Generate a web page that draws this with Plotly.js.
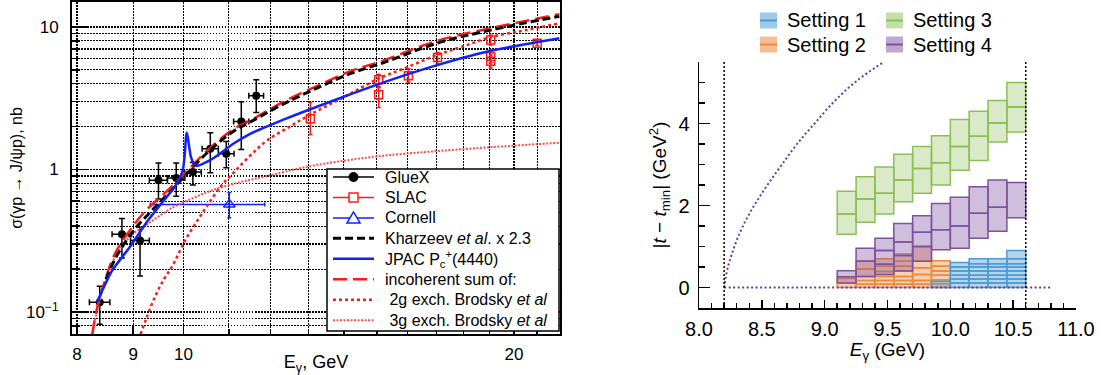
<!DOCTYPE html>
<html><head><meta charset="utf-8">
<script src="https://cdn.plot.ly/plotly-3.0.1.min.js"></script>
<style>html,body{margin:0;padding:0;background:#fff}#chart{width:1101px;height:375px}</style>
</head><body><div id="chart"></div>
<script>
// ================= LEFT PANEL DATA =================
const gluexE = [8.39, 8.79, 9.13, 9.49, 9.85, 10.2, 10.58, 10.94, 11.29, 11.65];
const gluexSigma = [0.117, 0.351, 0.318, 0.84, 0.87, 0.96, 1.40, 1.29, 2.17, 3.29];
const gluexErrUp = [0.035, 0.103, 0.075, 0.27, 0.24, 0.16, 0.41, 0.28, 0.82, 0.97];
const gluexErrDown = [0.035, 0.112, 0.139, 0.22, 0.22, 0.18, 0.45, 0.26, 0.79, 0.78];
const gluexErrE = [0.18, 0.18, 0.18, 0.18, 0.18, 0.18, 0.18, 0.18, 0.18, 0.18];

const slacE = [13.05, 15.06, 15.06, 16.03, 17.04, 19.05, 19.05, 19.05, 21.0];
const slacSigma = [2.27, 3.34, 4.26, 4.54, 6.1, 8.1, 6.2, 5.75, 7.7];
const slacErrUp = [0.68, 0.40, 0.40, 0.55, 0.55, 0.69, 0.70, 0.60, 0.30];
const slacErrDown = [0.51, 0.62, 0.45, 0.45, 0.60, 0.62, 0.60, 0.60, 0.30];

const cornellE = [11.01];
const cornellSigma = [0.569];
const cornellErrEPlus = [0.85];
const cornellErrEMinus = [1.68];
const cornellErrUp = [0.12];
const cornellErrDown = [0.11];

const kharzeevE = [8.5, 8.7, 9.0, 9.3, 9.6, 10.0, 10.5, 11.1, 11.5, 12.35, 13.23, 14.2, 15.2, 17.03, 19.05, 22.0];
const kharzeevSigma = [0.17, 0.25, 0.37, 0.49, 0.63, 0.88, 1.3, 1.85, 2.15, 2.9, 3.72, 4.72, 5.6, 7.7, 9.5, 11.9];

const jpacE = [8.34, 8.61, 8.95, 9.3, 9.56, 9.83, 9.97, 10.0, 10.03, 10.055, 10.07, 10.09, 10.12, 10.16, 10.22, 10.29, 10.5, 10.73, 11.11, 11.5, 11.92, 12.78, 13.7, 14.6, 15.72, 17.03, 19.05, 22.0];
const jpacSigma = [0.117, 0.195, 0.291, 0.447, 0.585, 0.764, 0.95, 1.05, 1.3, 1.7, 1.81, 1.7, 1.45, 1.22, 1.1, 1.06, 1.13, 1.25, 1.52, 1.78, 2.01, 2.49, 3.05, 3.65, 4.45, 5.4, 6.8, 8.34];

const sumE = [8.26, 8.34, 8.49, 8.67, 8.95, 9.23, 9.63, 10.04, 10.62, 11.11, 11.5, 12.35, 13.23, 14.2, 15.2, 17.03, 19.05, 22.0];
const sumSigma = [0.07, 0.105, 0.17, 0.26, 0.38, 0.51, 0.69, 0.95, 1.46, 1.92, 2.2, 3.0, 3.85, 4.9, 5.8, 8.0, 9.8, 12.3];

const twoGluonE = [9.14, 9.25, 9.43, 9.6, 9.77, 10.04, 10.3, 10.5, 10.81, 11.11, 11.5, 11.92, 12.5, 13.05, 14.0, 15.02, 16.0, 17.03, 18.0, 19.05, 20.5, 22.0];
const twoGluonSigma = [0.07, 0.09, 0.13, 0.17, 0.21, 0.32, 0.44, 0.55, 0.76, 0.95, 1.25, 1.6, 2.0, 2.43, 3.22, 4.3, 5.23, 6.37, 7.33, 8.5, 9.5, 10.6];

const threeGluonE = [8.26, 8.34, 8.49, 8.67, 8.95, 9.3, 9.77, 10.2, 10.65, 11.3, 11.92, 13.0, 14.8, 17.1, 20.0, 22.0];
const threeGluonSigma = [0.07, 0.10, 0.165, 0.245, 0.34, 0.42, 0.54, 0.63, 0.72, 0.82, 0.90, 1.05, 1.22, 1.35, 1.47, 1.54];

const leftXTicks = [8, 9, 10, 20];
const leftXMinor = [11, 12, 13, 14, 15, 16, 17, 18, 19, 21, 22];
const leftYTicks = [0.1, 1, 10];
const leftYTickText = ['10<sup>\u22121</sup>', '1', '10'];
const leftYMinor = [0.08, 0.09, 0.2, 0.3, 0.4, 0.5, 0.6, 0.7, 0.8, 0.9, 2, 3, 4, 5, 6, 7, 8, 9];

const leftLegendNames = ['GlueX', 'SLAC', 'Cornell', 'Kharzeev <i>et al</i>. x 2.3', 'JPAC P<sub>c</sub><sup>+</sup>(4440)',
  'incoherent sum of:', '\u00a02g exch. Brodsky <i>et al</i>', '\u00a03g exch. Brodsky <i>et al</i>'];

// ================= RIGHT PANEL DATA =================
const eBinEdges = [9.1, 9.25, 9.4, 9.55, 9.7, 9.85, 10.0, 10.15, 10.3, 10.45, 10.6];

const setting1Cols = [5, 6, 7, 8, 9];
const setting1T = [
  [0, 0.15],
  [0, 0.11, 0.21, 0.30, 0.40, 0.50, 0.61],
  [0, 0.11, 0.21, 0.30, 0.40, 0.50, 0.58, 0.70],
  [0, 0.11, 0.21, 0.30, 0.40, 0.50, 0.58, 0.70],
  [0, 0.11, 0.21, 0.30, 0.40, 0.50, 0.58, 0.70, 0.90]
];
const setting2Cols = [0, 1, 2, 3, 4, 5];
const setting2T = [
  [0, 0.11, 0.22],
  [0, 0.08, 0.17, 0.27, 0.45, 0.64],
  [0, 0.08, 0.17, 0.27, 0.39, 0.52, 0.70],
  [0, 0.08, 0.17, 0.27, 0.40, 0.52, 0.64, 0.82],
  [0, 0.08, 0.17, 0.32, 0.48, 0.64, 1.0],
  [0, 0.09, 0.19, 0.30, 0.40, 0.52, 0.65]
];
const setting3Cols = [0, 1, 2, 3, 4, 5, 6, 7, 8, 9];
const setting3T = [
  [1.30, 1.79, 2.35], [1.59, 2.16, 2.70], [1.79, 2.30, 2.94], [2.09, 2.62, 3.25], [2.30, 2.90, 3.44],
  [2.50, 3.04, 3.70], [2.86, 3.44, 4.10], [3.10, 3.69, 4.30], [3.55, 4.01, 4.56], [3.79, 4.40, 5.00]
];
const setting4Cols = [0, 1, 2, 3, 4, 5, 6, 7, 8, 9];
const setting4T = [
  [0.11, 0.26, 0.41], [0.27, 0.64, 0.96], [0.32, 0.57, 0.90, 1.20], [0.40, 0.78, 1.11, 1.56], [0.64, 1.00, 1.35, 1.75],
  [0.92, 1.41, 2.05], [0.96, 1.50, 2.20], [1.20, 1.81, 2.46], [1.37, 1.96, 2.62], [1.70, 2.56]
];

const tMaxE = [8.2, 8.21, 8.23, 8.26, 8.3, 8.35, 8.41, 8.48, 8.56, 8.66, 8.78, 8.92, 9.08, 9.26, 9.47];
const tMaxT = [0, 0.2, 0.5, 0.8, 1.15, 1.5, 1.85, 2.2, 2.57, 3.0, 3.5, 4.0, 4.55, 5.05, 5.5];
const tMinE = [8.2, 10.8];
const tMinT = [0, 0];
const limitE = [8.2, 10.6];

const settingNames = ['Setting 1', 'Setting 2', 'Setting 3', 'Setting 4'];

// ================= BUILD =================
const RED = '#ff1a1a', BLUE = '#1020ff', RED3 = '#ff4d4d';
const traces = [];

traces.push({x: gluexE, y: gluexSigma, type: 'scatter', mode: 'markers', xaxis: 'x', yaxis: 'y', name: 'GlueX',
  marker: {color: 'black', size: 8, symbol: 'circle'},
  error_y: {type: 'data', symmetric: false, array: gluexErrUp, arrayminus: gluexErrDown, color: 'black', thickness: 1.5, width: 3},
  error_x: {type: 'data', array: gluexErrE, color: 'black', thickness: 1.5, width: 3}});
traces.push({x: slacE, y: slacSigma, type: 'scatter', mode: 'markers', xaxis: 'x', yaxis: 'y', name: 'SLAC',
  marker: {color: RED, size: 8, symbol: 'square-open', line: {color: RED, width: 1.5}},
  error_y: {type: 'data', symmetric: false, array: slacErrUp, arrayminus: slacErrDown, color: RED, thickness: 1.5, width: 2}});
traces.push({x: cornellE, y: cornellSigma, type: 'scatter', mode: 'markers', xaxis: 'x', yaxis: 'y', name: 'Cornell',
  marker: {color: BLUE, size: 10, symbol: 'triangle-up-open', line: {color: BLUE, width: 1.5}},
  error_y: {type: 'data', symmetric: false, array: cornellErrUp, arrayminus: cornellErrDown, color: BLUE, thickness: 1.5, width: 2},
  error_x: {type: 'data', symmetric: false, array: cornellErrEPlus, arrayminus: cornellErrEMinus, color: BLUE, thickness: 1.5, width: 2}});

const lineStyles = {
  three: {color: RED3, width: 2, dash: '2px,1.5px'},
  two: {color: RED, width: 2.5, dash: '3px,3px'},
  sum: {color: RED, width: 2.5, dash: '14px,6px'},
  khar: {color: 'black', width: 3, dash: '8px,4px'},
  jpac: {color: BLUE, width: 2.5}
};
traces.push({x: threeGluonE, y: threeGluonSigma, type: 'scatter', mode: 'lines', name: '3g', line: Object.assign({shape: 'spline'}, lineStyles.three), xaxis: 'x', yaxis: 'y'});
traces.push({x: twoGluonE, y: twoGluonSigma, type: 'scatter', mode: 'lines', name: '2g', line: Object.assign({shape: 'spline'}, lineStyles.two), xaxis: 'x', yaxis: 'y'});
traces.push({x: sumE, y: sumSigma, type: 'scatter', mode: 'lines', name: 'sum', line: Object.assign({shape: 'spline'}, lineStyles.sum), xaxis: 'x', yaxis: 'y'});
traces.push({x: kharzeevE, y: kharzeevSigma, type: 'scatter', mode: 'lines', name: 'Kharzeev', line: Object.assign({shape: 'spline'}, lineStyles.khar), xaxis: 'x', yaxis: 'y'});
traces.push({x: jpacE, y: jpacSigma, type: 'scatter', mode: 'lines', name: 'JPAC', line: Object.assign({shape: 'spline', smoothing: 0.6}, lineStyles.jpac), xaxis: 'x', yaxis: 'y'});

// right: boxes
function boxPolys(cols, tEdges) {
  const xs = [], ys = [];
  cols.forEach((c, i) => {
    const e0 = eBinEdges[c], e1 = eBinEdges[c + 1], t = tEdges[i];
    for (let j = 0; j < t.length - 1; j++) {
      xs.push(e0, e1, e1, e0, e0, null);
      ys.push(t[j], t[j], t[j + 1], t[j + 1], t[j], null);
    }
  });
  return {xs, ys};
}
const settingStyles = [
  {fill: 'rgba(79,159,214,0.43)', swatch: 'rgba(79,159,214,0.55)', line: '#4d9bd3'},
  {fill: 'rgba(240,136,62,0.40)', swatch: 'rgba(240,136,62,0.55)', line: '#ee8a3c'},
  {fill: 'rgba(140,191,85,0.32)', swatch: 'rgba(140,191,85,0.5)', line: '#8cbf55'},
  {fill: 'rgba(126,82,160,0.37)', swatch: 'rgba(126,82,160,0.5)', line: '#7e52a0'}
];
const settingData = [[setting3Cols, setting3T, 2], [setting2Cols, setting2T, 1], [setting4Cols, setting4T, 3], [setting1Cols, setting1T, 0]];
settingData.forEach(([cols, tt, k]) => {
  const p = boxPolys(cols, tt);
  traces.push({x: p.xs, y: p.ys, type: 'scatter', mode: 'lines', fill: 'toself', fillcolor: settingStyles[k].fill, name: settingNames[k],
    line: {color: settingStyles[k].line, width: 1.5}, xaxis: 'x2', yaxis: 'y2', hoverinfo: 'skip'});
});
traces.push({x: tMaxE, y: tMaxT, type: 'scatter', mode: 'lines', line: {color: '#6a3d9a', width: 2, dash: '2px,2.5px', shape: 'spline'},
  xaxis: 'x2', yaxis: 'y2', name: 't max'});
traces.push({x: tMinE, y: tMinT, type: 'scatter', mode: 'lines', line: {color: '#6a3d9a', width: 2, dash: '2px,2.5px'},
  xaxis: 'x2', yaxis: 'y2', name: 't min'});

// ---------- shapes & annotations (threshold lines + legends) ----------
const W = 1101, H = 375;
const PX = px => px / W, PY = py => 1 - py / H;
const shapes = limitE.map(e => ({type: 'line', xref: 'x2', yref: 'y2 domain', x0: e, x1: e, y0: 0, y1: 1,
  line: {color: 'black', width: 1.5, dash: '2px,2px'}}));
const annotations = [];

// left legend box
shapes.push({type: 'rect', xref: 'paper', yref: 'paper', x0: PX(327), x1: PX(559), y0: PY(331), y1: PY(169),
  line: {color: 'black', width: 1.5}, fillcolor: 'white', layer: 'above'});
const leftLegendLines = [
  {color: 'black', width: 1.5}, {color: RED, width: 1.5}, {color: BLUE, width: 1.5},
  lineStyles.khar, lineStyles.jpac, lineStyles.sum, lineStyles.two, lineStyles.three
];
const rowY = i => 177 + 20.45 * i;
leftLegendNames.forEach((nm, i) => {
  const yc = rowY(i);
  const ls = leftLegendLines[i];
  shapes.push({type: 'line', xref: 'paper', yref: 'paper', x0: PX(333), x1: PX(374), y0: PY(yc), y1: PY(yc),
    line: {color: ls.color, width: ls.width, dash: ls.dash || 'solid'}, layer: 'above'});
  annotations.push({xref: 'paper', yref: 'paper', x: PX(383), y: PY(yc), xanchor: 'left', yanchor: 'middle', showarrow: false,
    text: nm, font: {size: 16, color: 'black'}});
});
const mx = 353.5;
shapes.push({type: 'circle', xref: 'paper', yref: 'paper', x0: PX(mx - 4.5), x1: PX(mx + 4.5), y0: PY(rowY(0) + 4.5), y1: PY(rowY(0) - 4.5),
  fillcolor: 'black', line: {color: 'black', width: 1}, layer: 'above'});
shapes.push({type: 'rect', xref: 'paper', yref: 'paper', x0: PX(mx - 4.5), x1: PX(mx + 4.5), y0: PY(rowY(1) + 4.5), y1: PY(rowY(1) - 4.5),
  fillcolor: 'white', line: {color: RED, width: 1.5}, layer: 'above'});
const ty = rowY(2);
shapes.push({type: 'path', xref: 'paper', yref: 'paper',
  path: `M ${PX(mx)},${PY(ty - 6)} L ${PX(mx - 6.5)},${PY(ty + 5)} L ${PX(mx + 6.5)},${PY(ty + 5)} Z`,
  fillcolor: 'white', line: {color: BLUE, width: 1.5}, layer: 'above'});

// right legend
const rightLegendPos = [[760, 20.5], [760, 44.5], [886, 20.5], [886, 44.5]];
settingNames.forEach((nm, k) => {
  const [sx, sy] = rightLegendPos[k];
  shapes.push({type: 'rect', xref: 'paper', yref: 'paper', x0: PX(sx), x1: PX(sx + 17), y0: PY(sy + 8), y1: PY(sy - 8),
    fillcolor: settingStyles[k].swatch, line: {width: 0}, layer: 'above'});
  shapes.push({type: 'line', xref: 'paper', yref: 'paper', x0: PX(sx), x1: PX(sx + 17), y0: PY(sy), y1: PY(sy),
    line: {color: settingStyles[k].line, width: 2}, layer: 'above'});
  annotations.push({xref: 'paper', yref: 'paper', x: PX(sx + 25), y: PY(sy), xanchor: 'left', yanchor: 'middle', showarrow: false,
    text: nm, font: {size: 20, color: 'black'}});
});

const GRID = '#000';
const GD = '1.5px,1.5px';
const F = 'Liberation Sans, Arial, sans-serif';
const layout = {
  width: W, height: H, margin: {l: 0, r: 0, t: 0, b: 0},
  paper_bgcolor: 'white', plot_bgcolor: 'white',
  font: {family: F, color: 'black', size: 16},
  showlegend: false,
  xaxis: {type: 'log', range: [0.8985, 1.343], domain: [72 / W, 560 / W], anchor: 'y',
    tickvals: leftXTicks, ticktext: leftXTicks.map(String), ticks: 'inside', ticklen: 8, tickwidth: 1.5, tickcolor: 'black',
    showgrid: true, gridcolor: GRID, griddash: GD, gridwidth: 1.2,
    minor: {tickvals: leftXMinor, ticks: 'inside', ticklen: 5, tickcolor: 'black', showgrid: true, gridcolor: GRID, griddash: GD, gridwidth: 1.2},
    showline: true, mirror: true, linecolor: 'black', linewidth: 2, zeroline: false,
    tickfont: {size: 17}, ticklabelstandoff: 4,
    title: {text: 'E<sub>\u03b3</sub>, GeV', font: {size: 18}, standoff: 0}},
  yaxis: {type: 'log', range: [-1.154, 1.175], domain: [41 / H, 373 / H], anchor: 'x',
    tickvals: leftYTicks, ticktext: leftYTickText, ticks: 'inside', ticklen: 16, tickwidth: 1.5, tickcolor: 'black',
    showgrid: true, gridcolor: GRID, griddash: GD, gridwidth: 1.2,
    minor: {tickvals: leftYMinor, ticks: 'inside', ticklen: 8, tickcolor: 'black', showgrid: true, gridcolor: GRID, griddash: GD, gridwidth: 1.2},
    showline: true, mirror: true, linecolor: 'black', linewidth: 2, zeroline: false,
    tickfont: {size: 17}, ticklabelstandoff: 8,
    title: {text: '\u03c3(\u03b3p \u2192 J/\u03c8p), nb', font: {size: 16}, standoff: 0}},
  xaxis2: {range: [8, 11], domain: [699 / W, 1076 / W], anchor: 'y2',
    tick0: 8, dtick: 0.5, tickformat: '.1f', ticks: 'inside', ticklen: 8, tickwidth: 1.5, tickcolor: 'black',
    minor: {dtick: 0.1, tick0: 8, ticks: 'inside', ticklen: 5, tickwidth: 1.5, tickcolor: 'black', showgrid: false},
    showgrid: false, zeroline: false, showline: true, linecolor: 'black', linewidth: 1.5,
    tickfont: {size: 20}, ticklabelstandoff: 2,
    title: {text: '<i>E</i><sub>\u03b3</sub> (GeV)', font: {size: 19}, standoff: 4}},
  yaxis2: {range: [-0.5, 5.5], domain: [67 / H, 313 / H], anchor: 'x2',
    tickvals: [0, 2, 4], ticks: 'inside', ticklen: 11, tickwidth: 1.5, tickcolor: 'black',
    minor: {dtick: 0.5, tick0: 0, ticks: 'inside', ticklen: 6, tickwidth: 1.5, tickcolor: 'black', showgrid: false},
    showgrid: false, zeroline: false, showline: true, linecolor: 'black', linewidth: 1.5,
    tickfont: {size: 20}, ticklabelstandoff: 4,
    title: {text: '|<i>t</i> \u2212 <i>t</i><sub>min</sub>| (GeV<sup>2</sup>)', font: {size: 19}, standoff: 6}},
  shapes: shapes,
  annotations: annotations
};
Plotly.newPlot('chart', traces, layout, {displayModeBar: false, staticPlot: true});
</script>
</body></html>
